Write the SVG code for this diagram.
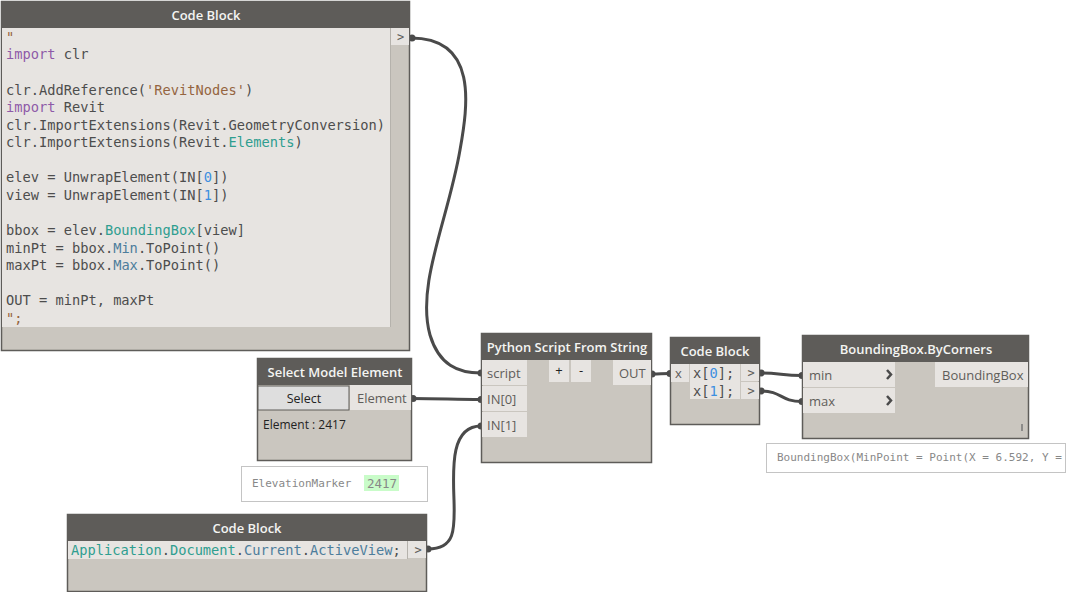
<svg xmlns="http://www.w3.org/2000/svg" width="1066" height="592" viewBox="0 0 1066 592">
<style>
.body{fill:#cac6bf;stroke:#5e5c59;stroke-width:1.5}
.head{fill:#5e5c59}
.title{font:600 13px "Open Sans",sans-serif;fill:#f4f4f2;text-anchor:middle}
.port{fill:#e7e4e1}
.lab{font:13px "Open Sans",sans-serif;fill:#5f5d5a}
.code{font:13.7px "DejaVu Sans Mono",monospace;fill:#4d4d4d;white-space:pre}
.k{fill:#8e5aa8}.s{fill:#95643f}.t{fill:#2f9e90}.n{fill:#3d8fe0}.m{fill:#4d7d9c}
.gt{font:12px "DejaVu Sans Mono",monospace;fill:#5f5d5a;text-anchor:middle}
.w{fill:none;stroke:#4a4a4a;stroke-width:3}
.dot{fill:#4a4a4a}
.prev{fill:#fff;stroke:#c4c4c4;stroke-width:1}
.pt{font:11px "DejaVu Sans Mono",monospace;fill:#888}
</style>
<g id="connectors">
<path class="w" d="M411 38C478 38 468 105 460 150C448 220 416 285 430 335C439 365 458 373 481 373"/>
<path class="w" d="M412 398.500C440 398.500 455 399.500 481 399.500"/>
<path class="w" d="M428 549C455 549 455 530 454 500C453 470 450 426 481 426"/>
<path class="w" d="M652 374C660 374 662 373.500 670 373.500"/>
<path class="w" d="M761 373C780 373 782 375.500 802 375.500"/>
<path class="w" d="M761 391C782 391 780 401.500 802 401.500"/>
<circle class="dot" cx="412" cy="38" r="3.500"/><circle class="dot" cx="481" cy="373" r="3.500"/>
<circle class="dot" cx="413" cy="398.500" r="3.500"/><circle class="dot" cx="481" cy="399.500" r="3.500"/>
<circle class="dot" cx="428" cy="549" r="3.500"/><circle class="dot" cx="481" cy="426" r="3.500"/>
<circle class="dot" cx="652" cy="374" r="3.500"/><circle class="dot" cx="670" cy="373.500" r="3.500"/>
<circle class="dot" cx="761" cy="373" r="3.500"/><circle class="dot" cx="802" cy="375.500" r="3.500"/>
<circle class="dot" cx="761" cy="391" r="3.500"/><circle class="dot" cx="802" cy="401.500" r="3.500"/>
</g>
<g id="node-code-main">
<rect class="body" x="1.500" y="1.500" width="408" height="349"/>
<rect class="head" x="1" y="1" width="409" height="27"/>
<text class="title" x="206" y="20">Code Block</text>
<rect class="port" x="2" y="28" width="388" height="299"/>
<line x1="390.500" y1="28" x2="390.500" y2="327" stroke="#b5b2ac"/>
<rect class="port" x="391" y="28" width="18" height="17"/>
<text class="gt" x="400.500" y="41">&gt;</text>
<text class="code" x="6" y="41.500" style="fill:#95643f">"</text>
<text class="code" x="6" y="59"><tspan class="k">import</tspan> clr</text>
<text class="code" x="6" y="95">clr.AddReference(<tspan class="s">'RevitNodes'</tspan>)</text>
<text class="code" x="6" y="112"><tspan class="k">import</tspan> Revit</text>
<text class="code" x="6" y="130">clr.ImportExtensions(Revit.GeometryConversion)</text>
<text class="code" x="6" y="147">clr.ImportExtensions(Revit.<tspan class="t">Elements</tspan>)</text>
<text class="code" x="6" y="182">elev = UnwrapElement(IN[<tspan class="n">0</tspan>])</text>
<text class="code" x="6" y="200">view = UnwrapElement(IN[<tspan class="n">1</tspan>])</text>
<text class="code" x="6" y="235">bbox = elev.<tspan class="t">BoundingBox</tspan>[view]</text>
<text class="code" x="6" y="253">minPt = bbox.<tspan class="m">Min</tspan>.ToPoint()</text>
<text class="code" x="6" y="270">maxPt = bbox.<tspan class="m">Max</tspan>.ToPoint()</text>
<text class="code" x="6" y="305">OUT = minPt, maxPt</text>
<text class="code" x="6" y="323" style="fill:#95643f">";</text>
</g>
<g id="node-select">
<rect class="body" x="257.500" y="358.500" width="154" height="102"/>
<rect class="head" x="257" y="358" width="155" height="27"/>
<text class="title" x="335" y="377">Select Model Element</text>
<rect x="258" y="386" width="91" height="24" fill="#dedede" stroke="#5e5c59"/>
<text x="304" y="403" font-family="Open Sans,sans-serif" font-size="12.500" fill="#222" text-anchor="middle">Select</text>
<rect class="port" x="350" y="385" width="61" height="25"/>
<text class="lab" x="357" y="403">Element</text>
<text x="263" y="429" font-family="Open Sans,sans-serif" font-size="12" fill="#222">Element : 2417</text>
</g>
<g id="preview-element">
<rect class="prev" x="241.500" y="466.500" width="186" height="35"/>
<text class="pt" x="252" y="487">ElevationMarker</text>
<rect x="364" y="475" width="35" height="16" fill="#c9fcc9"/>
<text x="367" y="488" font-family="DejaVu Sans Mono,monospace" font-size="12.500" fill="#888">2417</text>
</g>
<g id="node-code-view">
<rect class="body" x="67.500" y="514.500" width="359" height="77"/>
<rect class="head" x="67" y="514" width="360" height="27"/>
<text class="title" x="247" y="533">Code Block</text>
<rect class="port" x="68" y="541" width="339" height="18"/>
<rect class="port" x="408" y="541" width="18" height="17"/>
<line x1="407.500" y1="541" x2="407.500" y2="559" stroke="#b5b2ac"/>
<text class="gt" x="418" y="554">&gt;</text>
<text class="code" x="71" y="555"><tspan class="t">Application</tspan>.<tspan class="t">Document</tspan>.<tspan class="m">Current</tspan>.<tspan class="m">ActiveView</tspan>;</text>
</g>
<g id="node-python">
<rect class="body" x="481.500" y="333.500" width="170" height="129"/>
<rect class="head" x="481" y="333" width="171" height="27"/>
<text class="title" x="567" y="352">Python Script From String</text>
<rect class="port" x="482" y="360" width="45" height="25"/>
<rect class="port" x="482" y="386" width="45" height="25"/>
<rect class="port" x="482" y="412" width="45" height="25"/>
<text class="lab" x="487" y="378">script</text>
<text class="lab" x="487" y="404">IN[0]</text>
<text class="lab" x="487" y="430">IN[1]</text>
<rect class="port" x="549" y="360" width="20" height="22"/>
<rect class="port" x="571" y="360" width="20" height="22"/>
<text x="559" y="375" font-family="Open Sans,sans-serif" font-size="13" fill="#222" text-anchor="middle">+</text>
<text x="581" y="375" font-family="Open Sans,sans-serif" font-size="13" fill="#222" text-anchor="middle">-</text>
<rect class="port" x="613" y="360" width="38" height="25"/>
<text class="lab" x="619" y="378">OUT</text>
</g>
<g id="node-code-index">
<rect class="body" x="670.500" y="337.500" width="89" height="87"/>
<rect class="head" x="670" y="337" width="90" height="27"/>
<text class="title" x="715" y="356">Code Block</text>
<rect class="port" x="671" y="364" width="18" height="18"/>
<text class="lab" x="675" y="378">x</text>
<rect class="port" x="690" y="364" width="50" height="35"/>
<rect class="port" x="741" y="364" width="18" height="17"/>
<rect class="port" x="741" y="382" width="18" height="17"/>
<text class="gt" x="751" y="377">&gt;</text>
<text class="gt" x="751" y="395">&gt;</text>
<text class="code" x="693" y="378">x[<tspan class="n">0</tspan>];</text>
<text class="code" x="693" y="396">x[<tspan class="n">1</tspan>];</text>
</g>
<g id="node-bbox">
<rect class="body" x="802.500" y="335.500" width="226" height="103"/>
<rect class="head" x="802" y="335" width="227" height="27"/>
<text class="title" x="916" y="354">BoundingBox.ByCorners</text>
<rect class="port" x="803" y="362" width="92" height="25"/>
<rect class="port" x="803" y="388" width="92" height="25"/>
<rect class="port" x="935" y="362" width="93" height="25"/>
<text class="lab" x="809" y="380">min</text>
<text class="lab" x="809" y="406">max</text>
<text class="lab" x="942" y="380">BoundingBox</text>
<path d="M887 370l4 4.500-4 4.500M887 396l4 4.500-4 4.500" fill="none" stroke="#4a4a4a" stroke-width="2.500"/>
<line x1="1022" y1="424" x2="1022" y2="431" stroke="#777" stroke-width="1.500"/>
</g>
<g id="preview-bbox">
<rect class="prev" x="766.500" y="443.500" width="299" height="29"/>
<text class="pt" x="777" y="461">BoundingBox(MinPoint = Point(X = 6.592, Y =</text>
</g>
</svg>
